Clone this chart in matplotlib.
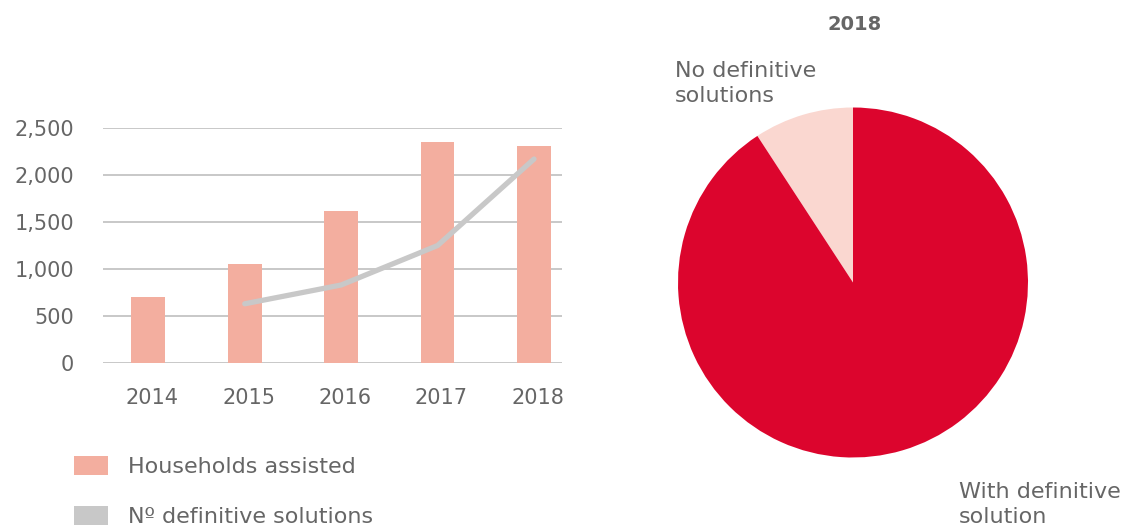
import matplotlib
matplotlib.use("Agg")
import matplotlib.pyplot as plt
from matplotlib.patches import Patch
import numpy as np

# Data
years = ["2014", "2015", "2016", "2017", "2018"]
households_assisted = [700, 1050, 1620, 2350, 2310]
solution_years = ["2015", "2016", "2017", "2018"]
definitive_solutions = [630, 830, 1250, 2170]
yticks = [0, 500, 1000, 1500, 2000, 2500]

pie_labels = ["No definitive\nsolutions", "With definitive\nsolution"]
pie_shares = [9.2, 90.8]
pie_title = "2018"

BAR_COLOR = "#F3AE9F"
LINE_COLOR = "#C8C8C8"
RED = "#DC052D"
PINK = "#FAD7D0"
TEXT = "#666666"
GRID = "#C4C4C4"
TICK_FS = 15
LABEL_FS = 16

plt.rcParams["font.family"] = ["DejaVu Sans"]

fig = plt.figure(figsize=(11.21, 5.26), dpi=100)

# Bar + line chart
ax = fig.add_axes([103 / 1121, 1 - 363 / 526, 459 / 1121, 235 / 526])
x = np.arange(len(years))
ax.bar(x, households_assisted, width=0.35, color=BAR_COLOR, zorder=2)
lx = [years.index(y) for y in solution_years]
ax.plot(lx, definitive_solutions, color=LINE_COLOR, lw=3.8,
        solid_capstyle="round", zorder=3)
ax.set_ylim(0, 2500)
ax.set_xlim(-0.47, 4.29)
ax.set_yticks(yticks)
ax.set_yticklabels([f"{v:,}" for v in yticks])
ax.set_xticks(x + 0.04)
ax.set_xticklabels(years)
ax.yaxis.grid(True, color=GRID, lw=1.3, zorder=0)
ax.set_axisbelow(True)
for s in ax.spines.values():
    s.set_visible(False)
ax.tick_params(axis="both", length=0, labelsize=TICK_FS, colors=TEXT)
ax.tick_params(axis="y", pad=21)
ax.tick_params(axis="x", pad=18)

# Legend
handles = [Patch(facecolor=BAR_COLOR, edgecolor="none"),
           Patch(facecolor=LINE_COLOR, edgecolor="none")]
leg = fig.legend(handles, ["Households assisted", "Nº definitive solutions"],
                 loc="upper left", bbox_to_anchor=(63 / 1121, 1 - 445 / 526),
                 frameon=False, fontsize=LABEL_FS, handlelength=1.53,
                 handleheight=0.9, handletextpad=0.9, labelspacing=1.32,
                 borderpad=0)
for t in leg.get_texts():
    t.set_color(TEXT)

# Pie chart
pax = fig.add_axes([(853 - 175) / 1121, 1 - (282.5 + 175) / 526,
                    350 / 1121, 350 / 526])
pax.pie(pie_shares, colors=[PINK, RED], startangle=90, counterclock=True,
        radius=1, wedgeprops=dict(linewidth=0))
pax.set_xlim(-1, 1)
pax.set_ylim(-1, 1)
pax.set_aspect("equal")
pax.axis("off")

fig.text(855 / 1121, 1 - 25 / 526, pie_title, ha="center", va="center",
         fontsize=14, fontweight="bold", color=TEXT)
fig.text(675 / 1121, 1 - 61 / 526, pie_labels[0], ha="left", va="top",
         fontsize=LABEL_FS, color=TEXT, linespacing=1.3)
fig.text(959 / 1121, 1 - 482 / 526, pie_labels[1], ha="left", va="top",
         fontsize=LABEL_FS, color=TEXT, linespacing=1.3)

fig.savefig("out.png", dpi=100)
